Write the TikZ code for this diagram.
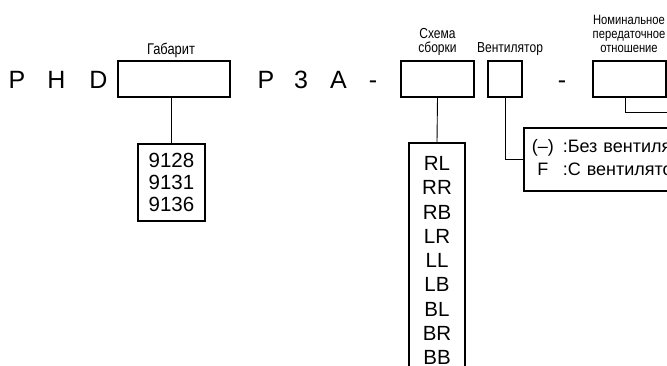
\documentclass[tikz,border=0pt]{standalone}
\usepackage{fontspec}
\setmainfont{Liberation Sans}
\newfontfamily\narrowfont[FakeStretch=0.83]{Liberation Sans}
\begin{document}
\begin{tikzpicture}[x=1pt,y=-1pt,
  box/.style={draw, line width=1.6pt, inner sep=0pt},
  conn/.style={line width=0.9pt},
  big/.style={font=\fontsize{25}{30}\selectfont, anchor=base, inner sep=0pt},
  lbl/.style={font=\narrowfont\fontsize{14.5}{14}\selectfont, align=center, anchor=north, inner sep=0pt},
  lst/.style={font=\fontsize{20.5}{22}\selectfont, align=center},
]
\useasboundingbox (0,0) rectangle (667,365);
\clip (0,0) rectangle (667,365);

% code letters
\node[big] (p1) at (17,88) {P};
\node[big] (h1) at (56.5,88) {H};
\node[big] (d1) at (98.5,88) {D};
\node[big] (p2) at (266,88) {P};
\node[big] (t3) at (301,88) {3};
\node[big] (a1) at (338.5,88) {A};
\node[big] (m1) at (373,88) {-};
\node[big] (m2) at (562,88) {-};

% boxes of the code
\node[box, minimum width=112pt, minimum height=36pt] (gab) at (174,79) {};
\node[box, minimum width=73pt, minimum height=36pt] (sch) at (437.5,79) {};
\node[box, minimum width=34pt, minimum height=36pt] (vent) at (505,79) {};
\node[box, minimum width=73pt, minimum height=36pt] (nom) at (629.5,79) {};

% labels
\node[lbl, font=\narrowfont\fontsize{15.5}{14}\selectfont] (lgab) at (171,43.2) {Габарит};
\node[lbl] (lsch) at (437.5,28.6) {Схема\\сборки};
\node[lbl] (lvent) at (510,42.6) {Вентилятор};
\node[lbl, font=\narrowfont\fontsize{13.5}{14}\selectfont] (lnom) at (629,15.3) {Номинальное\\передаточное\\отношение};

% option boxes
\node[box, lst, minimum width=67pt, minimum height=77pt] (num) at (171.5,182.5)
  {9128\\9131\\9136};
\node[box, font=\fontsize{20.5}{24.25}\selectfont, align=center, anchor=north,
  minimum width=56pt, inner ysep=13.7pt] (rl) at (437,142)
  {RL\\RR\\RB\\LR\\LL\\LB\\BL\\BR\\BB};
\node[box, font=\fontsize{18}{23}\selectfont, anchor=north west, align=left,
  text width=220pt, inner xsep=8pt, minimum height=63pt] (opts) at (523,127)
  {\makebox[22pt][c]{(–)}\hspace{9pt}:Без вентилятора\\
   \makebox[22pt][c]{F}\hspace{9pt}:С вентилятором};

% connectors
\coordinate (nomout) at (700,112);
\draw[conn] (gab.south -| num.north) -- (num.north);
\draw[conn] (sch.south) -- (rl.north);
\draw[conn] (vent.south) |- (opts.west);
\draw[conn] ([xshift=-4.5pt]nom.south) |- (nomout);
\end{tikzpicture}
\end{document}
